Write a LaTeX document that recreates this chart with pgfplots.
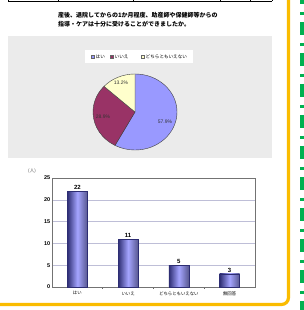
\documentclass[border=0pt]{standalone}
\usepackage{pgfplots}
\pgfplotsset{compat=1.18}
\usepackage{fontspec}
\setmainfont{Liberation Sans}
\newfontfamily\jp{Noto Sans CJK JP}
\definecolor{pieA}{RGB}{153,153,255}
\definecolor{pieB}{RGB}{153,51,102}
\definecolor{pieC}{RGB}{255,255,204}
\definecolor{framec}{RGB}{250,188,0}
\definecolor{dashc}{RGB}{0,176,80}
\definecolor{barmid}{RGB}{165,165,255}
\definecolor{baredge}{RGB}{45,45,115}
\definecolor{gridc}{RGB}{190,190,215}
\begin{document}
\begin{tikzpicture}[x=1pt,y=1pt]
\path[use as bounding box, fill=white] (0,0) rectangle (304,310);
% table edge at top
\draw[black, line width=0.8] (8,309) -- (272,309);
\foreach \x in {8,58,133,220,250,272} \draw[black,line width=0.8] (\x,309) -- (\x,312);
% title
\node[anchor=west, inner sep=0, font=\jp\bfseries\fontsize{6}{7}\selectfont] at (58,294.3) {産後、退院してからの1か月程度、助産師や保健師等からの};
\node[anchor=west, inner sep=0, font=\jp\bfseries\fontsize{6}{7}\selectfont] at (58,286) {指導・ケアは十分に受けることができましたか。};
% pie panel
\fill[black!8] (8,152) rectangle (272,274);
\fill[white] (85,247) rectangle (193,260);
\fill[pieA, draw=black!60, line width=0.2] (91.5,251.8) rectangle ++(3,3);
\node[anchor=west, inner sep=0, font=\jp\fontsize{4.6}{5}\selectfont] at (95.5,253.3) {はい};
\fill[pieB, draw=black!60, line width=0.2] (110.5,251.8) rectangle ++(3,3);
\node[anchor=west, inner sep=0, font=\jp\fontsize{4.6}{5}\selectfont] at (114.5,253.3) {いいえ};
\fill[pieC, draw=black!60, line width=0.2] (141.5,251.8) rectangle ++(3,3);
\node[anchor=west, inner sep=0, font=\jp\fontsize{4.6}{5}\selectfont] at (145.5,253.3) {どちらともいえない};
% pie: 57.9, 28.9, 13.2 percent
\begin{scope}[shift={(135,198)}, yscale=0.905]
\filldraw[fill=pieA, draw=black!75, line width=0.4] (0,0) -- (90:42) arc[start angle=90, delta angle=-208.44, radius=42] -- cycle;
\filldraw[fill=pieB, draw=black!75, line width=0.4] (0,0) -- (-118.44:42) arc[start angle=-118.44, delta angle=-104.04, radius=42] -- cycle;
\filldraw[fill=pieC, draw=black!75, line width=0.4] (0,0) -- (-222.48:42) arc[start angle=-222.48, delta angle=-47.52, radius=42] -- cycle;
\end{scope}
\node[font=\fontsize{5}{6}\selectfont, text=black!80] at (165,188) {57.9\%};
\node[font=\fontsize{5}{6}\selectfont, text=black!80] at (103,193) {28.9\%};
\node[font=\fontsize{5}{6}\selectfont, text=black!80] at (121,227) {13.2\%};
% bar chart
\node[font=\jp\fontsize{4.5}{5}\selectfont, text=black!70] at (32,139) {(人)};
\begin{axis}[at={(52pt,23pt)}, anchor=south west, scale only axis,
  width=203pt, height=109pt,
  xmin=-0.5, xmax=3.5, ymin=0, ymax=25,
  ytick={0,5,10,15,20,25},
  xtick={0,1,2,3},
  xticklabels={はい,いいえ,どちらともいえない,無回答},
  minor xtick={0.5,1.5,2.5},
  major tick length=0pt,
  minor tick length=2pt,
  xtick pos=bottom, xtick align=outside,
  ytick pos=left,
  ymajorgrids, grid style={color=gridc, line width=0.5},
  axis line style={black!55, line width=0.5},
  every minor tick/.style={black!60, line width=0.6},
  /pgf/number format/assume math mode=true,
  yticklabel style={font=\bfseries\fontsize{5.5}{6}\selectfont, inner sep=1.5pt},
  xticklabel style={font=\jp\fontsize{4.4}{5}\selectfont, yshift=-1pt},
  mybar/.style={ybar, bar width=20pt, draw=baredge, line width=0.4,
    left color=baredge, right color=baredge!80, middle color=barmid,
    nodes near coords,
    every node near coord/.append style={text=black, font=\bfseries\fontsize{6}{7}\selectfont, inner sep=1.5pt}},
  clip=false]
\addplot[mybar] coordinates {(0,22)};
\addplot[mybar] coordinates {(1,11)};
\addplot[mybar] coordinates {(2,5)};
\addplot[mybar] coordinates {(3,3)};
\end{axis}
% frame
\draw[framec, line width=3.2, rounded corners=7] (288.5,313) -- (288.5,5.5) -- (-3,5.5);
% green dashes
\draw[dashc, line width=4, dash pattern=on 13 off 8 on 3 off 7] (302,319) -- (302,-10);
\end{tikzpicture}
\end{document}
